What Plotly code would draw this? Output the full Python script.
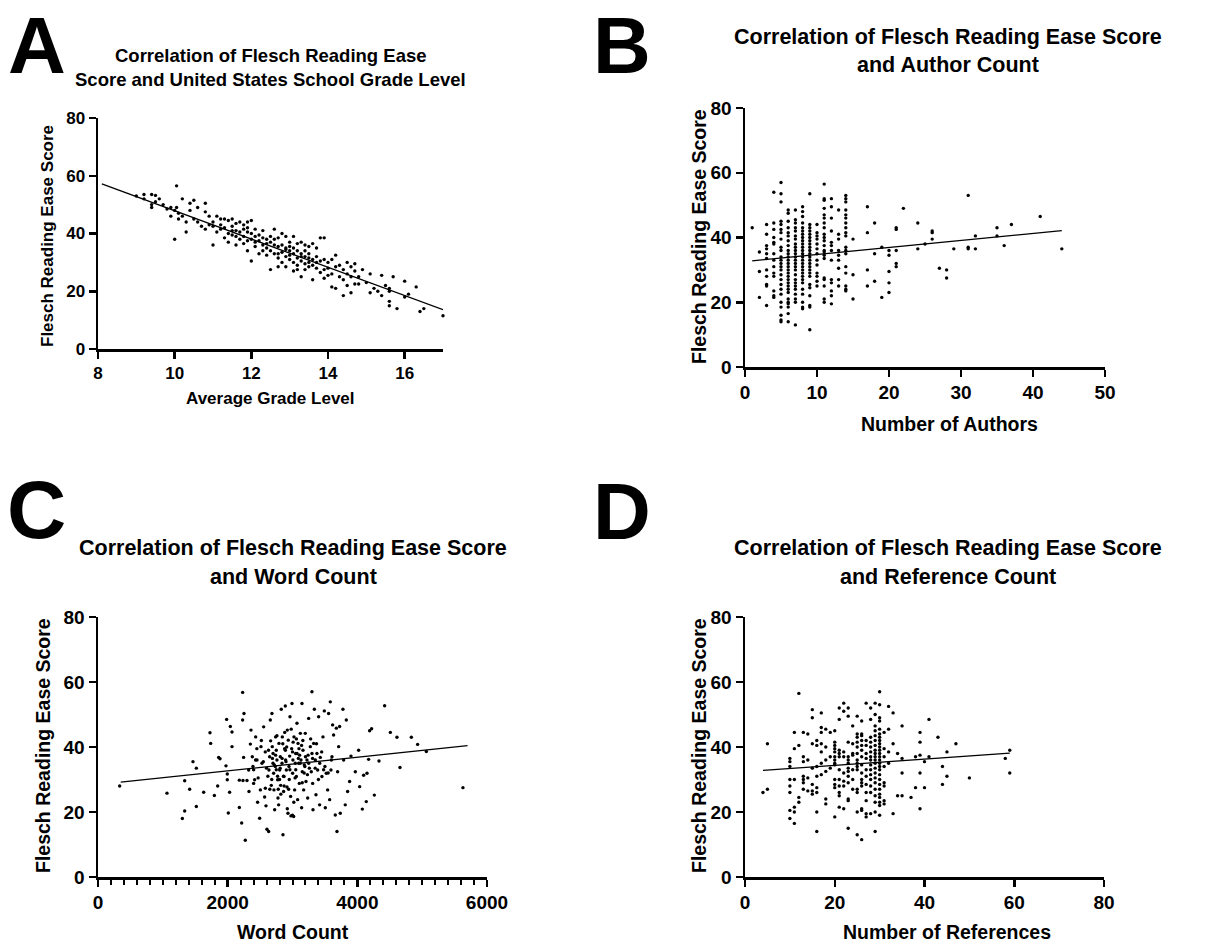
import plotly.graph_objects as go

# ---------------- DATA ----------------
# Panel A: average grade level vs Flesch Reading Ease
grade_level = [9.0, 9.2, 9.2, 9.4, 9.5, 9.4, 9.4, 9.5, 9.6, 9.7, 9.8, 9.9, 9.9, 10.0, 10.0, 10.05, 10.05, 10.1, 10.1, 10.2,
               10.2, 10.3, 10.3, 10.4, 10.4, 10.5, 10.5, 10.6, 10.6, 10.7, 10.8, 10.8, 10.8, 10.9, 10.9, 11.0, 11.0, 11.0, 11.1, 11.1,
               11.2, 11.2, 11.3, 11.3, 11.3, 11.4, 11.4, 11.4, 11.5, 11.5, 11.5, 11.6, 11.6, 11.6, 11.7, 11.7, 11.7, 11.8, 11.8, 11.8,
               11.9, 11.9, 11.9, 11.9, 12.0, 12.0, 12.0, 12.0, 12.1, 12.1, 12.1, 12.2, 12.2, 12.2, 12.3, 12.3, 12.3, 12.4, 12.4, 12.4,
               12.5, 12.5, 12.5, 12.5, 12.6, 12.6, 12.6, 12.7, 12.7, 12.7, 12.7, 12.8, 12.8, 12.8, 12.8, 12.9, 12.9, 12.9, 12.9, 13.0,
               13.0, 13.0, 13.0, 13.1, 13.1, 13.1, 13.1, 13.2, 13.2, 13.2, 13.2, 13.3, 13.3, 13.3, 13.3, 13.4, 13.4, 13.4, 13.4, 13.5,
               13.5, 13.5, 13.5, 13.6, 13.6, 13.6, 13.6, 13.7, 13.7, 13.7, 13.8, 13.8, 13.8, 13.9, 13.9, 13.9, 13.9, 14.0, 14.0, 14.0,
               14.1, 14.1, 14.1, 14.2, 14.2, 14.2, 14.3, 14.3, 14.4, 14.4, 14.4, 14.5, 14.5, 14.5, 14.6, 14.6, 14.6, 14.7, 14.7, 14.7,
               14.8, 14.8, 14.9, 15.0, 15.1, 15.1, 15.2, 15.3, 15.4, 15.4, 15.5, 15.6, 15.6, 15.6, 15.6, 15.7, 15.8, 16.0, 16.0, 16.1,
               16.3, 16.4, 16.5, 17.0, 11.2, 11.5, 11.8, 12.1, 12.4, 12.6, 12.9, 13.1, 13.3, 13.5, 13.7, 13.0, 12.3, 11.9, 11.6, 12.7,
               13.4, 13.2]
grade_score = [53, 53.5, 52, 53.5, 53.2, 50, 49, 51, 52, 50, 48.5, 46, 49, 48, 38, 56.5, 49, 47, 45, 52,
               46, 44, 40.5, 50.5, 48, 51.5, 45, 44, 49, 42.5, 50.5, 47.5, 41.5, 46, 43, 36, 44, 42.5, 46, 40.5,
               41.5, 43, 45, 38.5, 42, 44.5, 40, 37, 45, 42.5, 39.5, 41, 43.5, 36, 40.5, 44, 38, 41.5, 36.5, 39,
               44, 42, 37.5, 34, 44.5, 40, 38, 30.5, 37, 41.5, 35.5, 39.5, 33, 37.5, 41, 36, 34, 38, 35, 32.5,
               39, 37, 27.5, 34, 41.5, 36, 33, 38.5, 35.5, 28.5, 31.5, 40, 36, 33.5, 30, 39, 35, 32, 28.5, 37,
               34, 31, 35.5, 39, 33, 30, 27, 36.5, 34, 31.5, 29, 37, 33, 30.5, 25, 36, 32, 29.5, 27.5, 35.5,
               33, 30, 28.5, 36.5, 31, 24, 29, 35, 32, 28, 38.5, 30.5, 26.5, 38.5, 31, 27.5, 24.5, 30, 28, 25.5,
               31, 26, 21.5, 32.5, 28.5, 21, 29, 25, 27.5, 24, 18.5, 26, 22, 30, 28.5, 25, 19.5, 29.5, 27, 22.5,
               25, 22.5, 27.5, 23, 26, 19.5, 21, 20, 25.5, 18.5, 22, 21, 20, 16.5, 15, 25, 14, 18, 23.5, 19,
               21.5, 13, 14, 11.5, 45, 41, 43, 39, 36.5, 38, 34.5, 35, 32, 31.5, 30, 32.5, 38.5, 40.5, 39, 33,
               34, 27.5]
grade_fit_x = [8.1, 17.0]
grade_fit_y = [57.2, 13.6]

# Panel B: number of authors vs Flesch Reading Ease
author_counts = [1, 2, 3, 4, 5, 6, 7, 8, 9, 10, 11, 12, 13, 14, 15, 17, 18, 19, 20, 21, 22, 24, 25, 26, 27, 28, 29,
                 31, 32, 35, 36, 37, 41, 44]
author_scores = [
    [43],
    [35.5, 29.5, 21.5],
    [44, 41, 37.5, 36.5, 35, 33.5, 30, 28, 25.5, 25, 19],
    [54, 44.5, 42.5, 40, 38.5, 38, 35, 33, 31, 29, 28, 23.5, 22, 21.5],
    [57, 53.5, 51, 45, 44, 42.5, 41.5, 39.5, 37, 36, 34, 33, 32, 31, 30, 28.5, 27, 25.5, 24, 22.5, 20, 18.5, 16, 14.5, 14],
    [48.5, 47.5, 45, 43, 41.5, 40.5, 39, 37.5, 36, 35, 34, 33, 32, 31, 30, 29, 28, 27, 26, 25, 24, 23, 21, 20, 19.5,
     18.5, 16.5, 14],
    [48.5, 45.5, 44.5, 43, 42, 40.5, 39.5, 38, 37, 36, 35, 34, 33, 32, 31, 30, 28.5, 27, 26, 25, 24, 22.5, 21, 20, 13],
    [49.5, 48, 46.5, 44.5, 43, 42, 41, 40, 39, 38, 37, 36, 35, 34, 33, 32, 31, 30, 29, 28, 27, 26, 24, 22.5, 20, 18.5, 18],
    [53.5, 44, 43, 42, 41, 40, 39, 38, 37, 36, 35, 34, 33, 32, 31, 30, 29, 28, 25.5, 24.5, 22, 19, 18.5, 11.5],
    [44, 41.5, 40.5, 39.5, 38, 36.5, 35, 33, 31.5, 29, 28, 26.5, 25],
    [56.5, 52, 51.5, 49, 47, 46, 44.5, 43, 41, 40, 39, 37.5, 36, 35.5, 34.5, 33.5, 27.5, 27, 25, 21, 20],
    [52, 49.5, 46, 42, 38.5, 37.5, 36, 33, 27, 26, 23.5, 22, 19.5],
    [48.5, 41, 39.5, 36, 34.5, 33, 30.5, 27, 25],
    [53, 52, 51, 48.5, 47, 46, 44.5, 43, 41.5, 40.5, 37, 36, 35, 31, 29, 25, 24, 23.5],
    [39.5, 28.5, 21],
    [49.5, 41.5, 30, 25],
    [44.5, 35, 26.5],
    [37, 21.5],
    [36, 34.5, 29.5, 26, 23],
    [43, 42.5, 36, 32, 31],
    [49],
    [44.5, 36.5],
    [38],
    [42, 41.5, 39.5],
    [30.5],
    [30, 27.5],
    [36.5],
    [53, 37, 36.5],
    [40.5, 36.5],
    [43, 40.5],
    [37.5],
    [44],
    [46.5],
    [36.5],
]
author_fit_x = [1, 44]
author_fit_y = [32.8, 42.1]

# Panel C: word count vs Flesch Reading Ease
word_count = [334, 1064, 1301, 1337, 1337, 1414, 1465, 1517, 1517, 1630, 1727, 1738, 1795, 1846, 1861, 1882, 1974, 1984,
              1994, 1994, 2010, 2030, 2041, 2067, 2067, 2180, 2180, 2216, 2231, 2231, 2252, 2272, 2236, 2246, 2298, 2324,
              2329, 2350, 2360, 2380, 2390, 2400, 2416, 2432, 2452, 2462, 2493, 2504, 2514, 2529, 2555, 2570, 2581, 2591,
              2606, 2632, 2637, 2647, 2658, 2663, 2673, 2683, 2688, 2699, 2709, 2714, 2725, 2735, 2740, 2750, 2760, 2771,
              2776, 2786, 2791, 2802, 2812, 2817, 2827, 2838, 2843, 2853, 2863, 2869, 2879, 2889, 2894, 2905, 2915, 2920,
              2930, 2935, 2946, 2956, 2961, 2971, 2976, 2987, 2992, 3002, 3007, 3018, 3023, 3033, 3043, 3049, 3059, 3069,
              3079, 3085, 3095, 3105, 3110, 3121, 3131, 3141, 3146, 3151, 3162, 3172, 3182, 3197, 3208, 3223, 3234, 3249,
              3260, 3275, 3290, 3300, 3311, 3316, 3326, 3337, 3352, 3362, 3377, 3388, 3403, 3418, 3429, 3454, 3470, 3491,
              3506, 3521, 3542, 3557, 3573, 3583, 3593, 3609, 3619, 3634, 3660, 3676, 3686, 3696, 3712, 3727, 3737, 3778,
              3789, 3814, 3830, 3850, 3881, 3902, 3969, 4020, 4036, 4077, 4097, 4138, 4149, 4174, 4189, 4220, 4262, 4334,
              4421, 4509, 4611, 4658, 4833, 4930, 5064, 5629,
              2700, 2750, 2800, 2850, 2900, 2950, 3000, 3050, 3100, 3150, 3200, 3250, 3300, 2600, 2650, 2550, 2450, 2400,
              3350, 3400, 3450, 3500, 3550, 3600, 2880, 2980, 3060, 3120, 3180, 2820, 2780, 2920, 3000, 3020, 2860, 2760,
              2690, 2630, 2520, 3280,
              2720, 2770, 2840, 2870, 2910, 2960, 3010, 3040, 3090, 3140, 3190, 3230, 3310, 3370, 2680, 2740, 2810, 2890,
              2940, 3070, 3160, 3240, 2580, 2620, 3420, 3480, 2470, 2430]
word_score = [28.0, 25.8, 18.0, 20.3, 29.6, 27.0, 35.5, 33.5, 21.7, 26.1, 44.4, 41.1, 25.1, 28.0, 36.8, 36.4, 34.2, 48.5,
              29.9, 31.7, 19.7, 26.1, 46.3, 44.6, 40.1, 29.8, 21.4, 16.6, 56.8, 48.3, 50.3, 11.3, 29.7, 36.8, 29.7, 32.9,
              26.3, 40.9, 45.2, 37.0, 34.0, 28.8, 29.9, 43.1, 36.0, 23.0, 18.1, 26.8, 40.1, 35.0, 46.2, 24.6, 27.3, 21.9,
              14.7, 14.0, 32.9, 37.0, 48.3, 41.9, 28.2, 50.3, 40.1, 35.0, 31.9, 26.8, 20.7, 34.0, 43.1, 39.0, 36.0, 29.9,
              24.3, 22.2, 41.1, 32.9, 37.0, 28.2, 51.6, 35.0, 43.1, 13.0, 26.3, 30.9, 39.5, 52.6, 36.0, 32.9, 27.7, 45.2,
              19.6, 42.1, 34.0, 37.2, 49.3, 24.8, 18.8, 39.5, 53.4, 31.9, 36.0, 18.6, 43.1, 26.8, 35.0, 38.0, 30.9, 47.3,
              23.8, 41.1, 35.0, 28.8, 37.5, 44.2, 36.0, 21.3, 53.4, 32.4, 39.0, 26.8, 34.5, 44.2, 29.4, 36.0, 24.3, 48.8,
              33.5, 40.1, 32.4, 57.0, 28.8, 20.7, 41.1, 51.6, 36.0, 25.3, 38.0, 32.9, 49.3, 22.2, 36.8, 30.9, 43.1, 51.1,
              21.3, 31.9, 26.8, 50.3, 23.8, 53.9, 32.9, 37.0, 46.8, 43.7, 19.1, 45.8, 14.0, 32.4, 40.1, 46.3, 19.6, 51.6,
              36.0, 22.2, 48.3, 26.3, 29.4, 37.2, 32.4, 39.0, 27.8, 20.9, 31.3, 23.2, 31.9, 36.2, 45.0, 45.6, 25.2, 35.7,
              52.7, 44.5, 43.0, 33.7, 43.0, 40.8, 38.6, 27.5,
              38, 33, 30, 41, 35.5, 30, 38.5, 33, 39.5, 29, 37, 35, 38, 33.5, 27, 35.5, 39.5, 33,
              33.5, 30, 38.5, 34, 32, 36, 44.5, 45.5, 42.5, 35, 32, 25.5, 27, 21, 19, 23, 31, 43.5,
              36.5, 39, 42, 42.5,
              34.5, 31, 36.5, 28, 40, 33, 41.5, 30.5, 36.5, 40.5, 34, 31.5, 36.5, 41, 30, 37.5, 33.5, 39,
              27, 38, 42, 37.5, 38.5, 31, 35, 33, 30.5, 36]
word_fit_x = [350, 5700]
word_fit_y = [29.2, 40.4]

# Panel D: number of references vs Flesch Reading Ease
ref_counts = [4, 5, 10, 11, 12, 13, 14, 15, 16, 17, 18, 19, 20, 21, 22, 23, 24, 25, 26, 27, 28, 29, 30, 31, 32, 33,
              34, 35, 37, 38, 39, 40, 41, 43, 44, 45, 47, 50, 58, 59]
ref_scores = [
    [26],
    [41, 27],
    [36.5, 35.5, 34, 30, 28, 26, 20.5, 18],
    [44.5, 39.5, 30, 21.5, 20, 16.5],
    [56.5, 40.5, 24.5, 23],
    [44.5, 37, 35.5, 31, 30, 29, 27],
    [44, 36, 30.5, 26.5],
    [51.5, 49, 41, 33.5, 28.5, 26.5, 25.5],
    [42, 40.5, 34, 31, 27.5, 26, 20, 14],
    [50.5, 46, 44.5, 41, 38.5, 35, 31.5],
    [45.5, 40, 36, 32.5, 24, 22.5],
    [44.5, 37, 33.5],
    [45, 41.5, 40.5, 39.5, 38.5, 37, 36, 35, 34.5, 30, 28.5, 27.5, 18.5],
    [52, 48.5, 39, 38, 37, 33, 30, 28, 26, 25, 21.5],
    [53.5, 51, 38.5, 37, 32, 29.5, 28, 21],
    [52, 49.5, 41.5, 37, 36, 35, 33.5, 32.5, 31, 29, 24, 23.5, 15],
    [46.5, 41, 38, 37.5, 33, 30, 27],
    [49.5, 44, 43, 41.5, 40, 38, 36, 35, 34, 33, 27, 26, 20, 13],
    [48, 44, 43.5, 42, 40.5, 39, 37, 34.5, 32, 30, 29, 28, 21, 20.5, 11.5],
    [53.5, 42, 40.5, 38, 36.5, 33, 31, 28.5, 26, 23.5, 19.5, 18.5],
    [52, 48.5, 43, 41.5, 40, 38.5, 37, 36, 34.5, 33, 31.5, 30, 28, 26, 19.5],
    [53.5, 50, 46.5, 45, 43.5, 42, 40.5, 39, 38, 37, 36, 35, 33.5, 32, 30.5, 29, 27, 25, 23, 20, 14],
    [57, 53, 49, 48, 45.5, 44, 43, 42, 41, 40, 39, 38, 37, 36, 35, 34, 33, 31.5, 30, 28.5, 27, 25.5, 24.5, 23, 22, 19],
    [44.5, 39.5, 37, 34, 29, 28, 23.5, 22.5],
    [52.5, 45.5, 38.5, 35],
    [50.5, 41, 19.5],
    [38, 25],
    [46.5, 36.5, 32, 25],
    [24.5],
    [37, 27.5],
    [44.5, 41.5, 37.5, 32, 21],
    [35.5, 27.5],
    [48.5, 37],
    [43],
    [34, 28.5],
    [38.5, 31],
    [41],
    [30.5],
    [36.5],
    [39, 32],
]
ref_fit_x = [4, 59]
ref_fit_y = [32.8, 38.1]

# ---------------- FIGURE ----------------
W, H = 1207, 948
FONT = "Arial, Liberation Sans, sans-serif"


def px(x):
    return x / W


def py(y):
    return 1 - y / H


def expand(cols, vals):
    xs, ys = [], []
    for c, vs in zip(cols, vals):
        for v in vs:
            xs.append(c)
            ys.append(v)
    return xs, ys


author_x, author_y = expand(author_counts, author_scores)
ref_x, ref_y = expand(ref_counts, ref_scores)

panels = [
    (grade_level, grade_score, grade_fit_x, grade_fit_y, (98, 443), (118, 349), [8, 17], 2),
    (author_x, author_y, author_fit_x, author_fit_y, (745, 1105), (108, 367), [0, 50], 10),
    (word_count, word_score, word_fit_x, word_fit_y, (98, 487), (617, 877), [0, 6000], 2000),
    (ref_x, ref_y, ref_fit_x, ref_fit_y, (745, 1104), (617, 877), [0, 80], 20),
]

fig = go.Figure()
layout = dict(width=W, height=H, margin=dict(l=0, r=0, t=0, b=0, autoexpand=False), showlegend=False,
              plot_bgcolor="white", paper_bgcolor="white", font=dict(family=FONT, color="black"))

for i, (xs, ys, fx, fy, xd, yd, xr, dt) in enumerate(panels):
    n = "" if i == 0 else str(i + 1)
    xa, ya = "x" + n, "y" + n
    fig.add_trace(go.Scatter(x=xs, y=ys, mode="markers", xaxis=xa, yaxis=ya, cliponaxis=False,
                             marker=dict(color="black", size=3.4, line=dict(width=0))))
    fig.add_trace(go.Scatter(x=fx, y=fy, mode="lines", xaxis=xa, yaxis=ya,
                             line=dict(color="black", width=1.3)))
    tick_font = dict(family=FONT, size=17 if i == 0 else 19, color="black", weight="bold")
    xaxis = dict(domain=[px(xd[0]), px(xd[1])], range=xr, anchor=ya, showgrid=False, zeroline=False,
                 showline=True, linecolor="black", linewidth=2.5, ticks="outside", ticklen=7, tickwidth=2.5,
                 tickcolor="black", dtick=dt, tick0=0, tickfont=tick_font, fixedrange=True, automargin=False)
    if i == 2:
        xaxis["minor"] = dict(dtick=200, ticks="outside", ticklen=5, tickwidth=2, tickcolor="black", showgrid=False)
    yaxis = dict(domain=[py(yd[1]), py(yd[0])], range=[0, 80], anchor=xa, showgrid=False, zeroline=False,
                 showline=True, linecolor="black", linewidth=2.5, ticks="outside", ticklen=7, tickwidth=2.5,
                 tickcolor="black", dtick=20, tickfont=tick_font, fixedrange=True, automargin=False)
    layout["xaxis" + n] = xaxis
    layout["yaxis" + n] = yaxis

fig.update_layout(**layout)

ann = []


def text(t, x, y, size, xanchor="center", yanchor="middle", angle=0):
    ann.append(dict(text=t, x=px(x), y=py(y), xref="paper", yref="paper", showarrow=False,
                    xanchor=xanchor, yanchor=yanchor, textangle=angle,
                    font=dict(family=FONT, size=size, color="black")))


# panel letters
text("<b>A</b>", 37, 46, 80)
text("<b>B</b>", 622, 46, 80)
text("<b>C</b>", 36, 509, 82)
text("<b>D</b>", 622, 512, 80)

# titles
text("<b>Correlation of Flesch Reading Ease</b>", 271, 55, 18.5)
text("<b>Score and United States School Grade Level</b>", 270, 80, 18.5)
text("<b>Correlation of Flesch Reading Ease Score</b>", 948, 37, 21.5)
text("<b>and Author Count</b>", 948, 65, 21.5)
text("<b>Correlation of Flesch Reading Ease Score</b>", 293, 548, 21.5)
text("<b>and Word Count</b>", 293, 577, 21.5)
text("<b>Correlation of Flesch Reading Ease Score</b>", 948, 548, 21.5)
text("<b>and Reference Count</b>", 948, 577, 21.5)

# axis titles
text("<b>Average Grade Level</b>", 270, 398, 17)
text("<b>Flesch Reading Ease Score</b>", 47, 236, 17, angle=-90)
text("<b>Number of Authors</b>", 949, 424, 19.5)
text("<b>Flesch Reading Ease Score</b>", 699, 237, 19.5, angle=-90)
text("<b>Word Count</b>", 293, 932, 19.5)
text("<b>Flesch Reading Ease Score</b>", 43, 746, 19.5, angle=-90)
text("<b>Number of References</b>", 947, 932, 19.5)
text("<b>Flesch Reading Ease Score</b>", 699, 746, 19.5, angle=-90)

fig.update_layout(annotations=ann)
fig.write_html("out.html", config={"displayModeBar": False, "staticPlot": True},
               post_script="document.body.style.margin='0';document.body.style.padding='0';"
                           "document.body.style.overflow='hidden';")
